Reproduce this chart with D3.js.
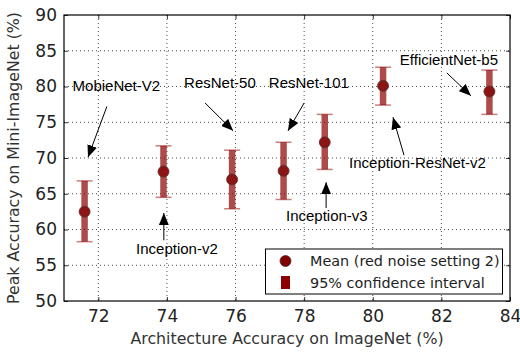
<!DOCTYPE html>
<html>
<head>
<meta charset="utf-8">
<script src="https://cdn.jsdelivr.net/npm/d3@7"></script>
<style>
  body { margin: 0; background: #fff; }
  svg { display: block; }
</style>
</head>
<body>
<div id="chart"></div>
<script>
// architectures, imagenet accuracy and mini-imagenet peak accuracy
const archNames = ["MobieNet-V2", "Inception-v2", "ResNet-50", "ResNet-101", "Inception-v3", "Inception-ResNet-v2", "EfficientNet-b5"];
const imagenetAcc = [71.6, 73.9, 75.9, 77.4, 78.6, 80.3, 83.4];
const meanAcc = [62.5, 68.1, 67.0, 68.2, 72.2, 80.1, 79.3];
const ciLow = [58.3, 64.5, 62.9, 64.2, 68.4, 77.4, 76.1];
const ciHigh = [66.8, 71.7, 71.1, 72.2, 76.1, 82.7, 82.3];

const xTicks = [72, 74, 76, 78, 80, 82, 84];
const yTicks = [50, 55, 60, 65, 70, 75, 80, 85, 90];

// label placement (data coords): text left/middle, arrow tail, arrow head
const notes = [
  { text: "MobieNet-V2", tx: 71.25, ty: 80.1, ax: 72.25, ay: 77.2, hx: 71.7, hy: 70.1 },
  { text: "Inception-v2", tx: 73.1, ty: 57.3, ax: 73.91, ay: 58.5, hx: 73.91, hy: 62.3 },
  { text: "ResNet-50", tx: 74.5, ty: 80.5, ax: 75.11, ay: 77.7, hx: 75.93, hy: 73.8 },
  { text: "ResNet-101", tx: 76.97, ty: 80.5, ax: 78.0, ay: 77.7, hx: 77.53, hy: 73.8 },
  { text: "Inception-v3", tx: 77.47, ty: 61.9, ax: 78.64, ay: 63.0, hx: 78.64, hy: 66.6 },
  { text: "Inception-ResNet-v2", tx: 79.31, ty: 69.3, ax: 80.91, ay: 70.4, hx: 80.59, hy: 75.7 },
  { text: "EfficientNet-b5", tx: 80.79, ty: 83.7, ax: 82.16, ay: 81.9, hx: 82.86, hy: 78.7 }
];

const width = 520, height = 352;
const margin = { top: 15, right: 10, bottom: 51, left: 64 };
const plotW = width - margin.left - margin.right,
  plotH = height - margin.top - margin.bottom;

const x = d3.scaleLinear().domain([71, 84]).range([0, plotW]);
const y = d3.scaleLinear().domain([50, 90]).range([plotH, 0]);

const svg = d3.select("#chart").append("svg")
  .attr("width", width)
  .attr("height", height);

const defs = svg.append("defs");
defs.append("marker")
  .attr("id", "head")
  .attr("viewBox", "0 0 12 10")
  .attr("refX", 12).attr("refY", 5)
  .attr("markerWidth", 12).attr("markerHeight", 10)
  .attr("markerUnits", "userSpaceOnUse")
  .attr("orient", "auto")
  .append("path")
  .attr("d", "M0,0 L12,5 L0,10 Z")
  .attr("fill", "#000");

const g = svg.append("g").attr("transform", `translate(${margin.left},${margin.top})`);

// grid
g.append("g").selectAll("line").data(xTicks.slice(0, -1)).join("line")
  .attr("x1", d => x(d)).attr("x2", d => x(d))
  .attr("y1", 0).attr("y2", plotH)
  .attr("stroke", "#000").attr("stroke-width", 0.7)
  .attr("stroke-dasharray", "1,3");
g.append("g").selectAll("line").data(yTicks.slice(1, -1)).join("line")
  .attr("x1", 0).attr("x2", plotW)
  .attr("y1", d => y(d)).attr("y2", d => y(d))
  .attr("stroke", "#000").attr("stroke-width", 0.7)
  .attr("stroke-dasharray", "1,3");

// axes (ticks inward on all sides)
const tickFont = "17px 'DejaVu Sans'";
const xAxis = g.append("g").attr("transform", `translate(0,${plotH})`)
  .call(d3.axisBottom(x).tickValues(xTicks).tickSizeInner(-4).tickSizeOuter(0).tickPadding(9));
const yAxis = g.append("g")
  .call(d3.axisLeft(y).tickValues(yTicks).tickSizeInner(-4).tickSizeOuter(0).tickPadding(7));
g.append("g").call(d3.axisTop(x).tickValues(xTicks).tickSizeInner(-4).tickSizeOuter(0).tickFormat(""));
g.append("g").attr("transform", `translate(${plotW},0)`)
  .call(d3.axisRight(y).tickValues(yTicks).tickSizeInner(-4).tickSizeOuter(0).tickFormat(""));
g.selectAll(".domain").remove();
g.selectAll(".tick line").attr("stroke", "#000").attr("stroke-width", 0.8);
[xAxis, yAxis].forEach(a => a.selectAll("text").style("font", tickFont).attr("fill", "#222"));

// error bars
const bars = g.append("g").selectAll("g").data(archNames).join("g");
bars.append("line")
  .attr("x1", (d, i) => x(imagenetAcc[i])).attr("x2", (d, i) => x(imagenetAcc[i]))
  .attr("y1", (d, i) => y(ciLow[i])).attr("y2", (d, i) => y(ciHigh[i]))
  .attr("stroke", "#8b0000").attr("stroke-opacity", 0.7).attr("stroke-width", 6.5);
bars.selectAll(".cap").data((d, i) => [[i, ciLow[i]], [i, ciHigh[i]]]).join("line")
  .attr("class", "cap")
  .attr("x1", d => x(imagenetAcc[d[0]]) - 8).attr("x2", d => x(imagenetAcc[d[0]]) + 8)
  .attr("y1", d => y(d[1])).attr("y2", d => y(d[1]))
  .attr("stroke", "#8b0000").attr("stroke-opacity", 0.5).attr("stroke-width", 1.5);
bars.append("circle")
  .attr("cx", (d, i) => x(imagenetAcc[i])).attr("cy", (d, i) => y(meanAcc[i]))
  .attr("r", 5.5)
  .attr("fill", "#8c1414").attr("stroke", "#553333").attr("stroke-width", 0.8);

// annotations
const ann = g.append("g").selectAll("g").data(notes).join("g");
ann.append("line")
  .attr("x1", d => x(d.ax)).attr("y1", d => y(d.ay))
  .attr("x2", d => x(d.hx)).attr("y2", d => y(d.hy))
  .attr("stroke", "#000").attr("stroke-width", 1)
  .attr("marker-end", "url(#head)");
ann.append("text")
  .attr("x", d => x(d.tx)).attr("y", d => y(d.ty))
  .attr("dy", "0.35em")
  .style("font", "15px 'Liberation Sans'")
  .attr("fill", "#000")
  .text(d => d.text);

// frame
g.append("rect")
  .attr("width", plotW).attr("height", plotH)
  .attr("fill", "none").attr("stroke", "#000").attr("stroke-width", 1.2);

// legend
const leg = g.append("g").attr("transform", `translate(${265.5 - margin.left},${249 - margin.top})`);
leg.append("rect")
  .attr("width", 237).attr("height", 45)
  .attr("fill", "#fff").attr("stroke", "#000").attr("stroke-width", 1);
leg.append("circle").attr("cx", 20).attr("cy", 12).attr("r", 5.5)
  .attr("fill", "#800000").attr("stroke", "#553333").attr("stroke-width", 0.8);
leg.append("rect").attr("x", 15.5).attr("y", 27).attr("width", 9).attr("height", 13)
  .attr("fill", "#8b0000");
leg.selectAll("text.lt").data(["Mean (red noise setting 2)", "95% confidence interval"]).join("text")
  .attr("class", "lt")
  .attr("x", 44.5).attr("y", (d, i) => 12 + i * 22).attr("dy", "0.35em")
  .style("font", "14.4px 'DejaVu Sans'").attr("fill", "#222")
  .text(d => d);

// axis titles
svg.append("text")
  .attr("x", margin.left + plotW / 2).attr("y", 344)
  .attr("text-anchor", "middle")
  .style("font", "15.8px 'DejaVu Sans'").attr("fill", "#333")
  .text("Architecture Accuracy on ImageNet (%)");
svg.append("text")
  .attr("transform", `translate(19,${margin.top + plotH / 2}) rotate(-90)`)
  .attr("text-anchor", "middle")
  .style("font", "15.8px 'DejaVu Sans'").attr("fill", "#333")
  .text("Peak Accuracy on Mini-ImageNet (%)");
</script>
</body>
</html>
